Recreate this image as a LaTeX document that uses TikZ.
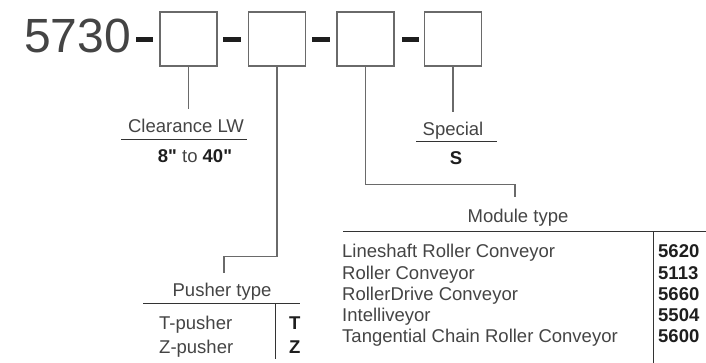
\documentclass[tikz,border=0pt]{standalone}
\usepackage{fontspec}
\setmainfont{Liberation Sans}
\newfontfamily\plainsans{Liberation Sans}
\definecolor{txt}{HTML}{444444}
\definecolor{bld}{HTML}{1E1E1E}
\definecolor{lin}{HTML}{6A6A6A}
\definecolor{rul}{HTML}{333333}
\begin{document}
\begin{tikzpicture}[x=1pt,y=-1pt,
  codebox/.style={draw=lin,line width=1.1pt,minimum width=57pt,minimum height=54pt,inner sep=0pt},
  dashbar/.style={fill=bld,draw=none},
  lbl/.style={inner sep=0pt,text=txt,font=\fontsize{18.5}{20}\selectfont},
  val/.style={inner sep=0pt,text=bld,font=\fontsize{18.5}{20}\selectfont\bfseries},
  conn/.style={draw=lin,line width=1.1pt},
  rule/.style={draw=rul,line width=1pt}]
\useasboundingbox (0,0) rectangle (706,363);
% code
\node[inner sep=0pt,anchor=base west,text=txt,font=\fontsize{48}{50}\selectfont] (code) at (24,53) {5730};
\fill[dashbar] (136,37.5) rectangle (153,41.8);
\fill[dashbar] (223,37.5) rectangle (241,41.8);
\fill[dashbar] (312,37.5) rectangle (330,41.8);
\fill[dashbar] (402,37.5) rectangle (419,41.8);
\node[codebox] (b1) at (188.5,39) {};
\node[codebox] (b2) at (277,39) {};
\node[codebox] (b3) at (365.5,39) {};
\node[codebox] (b4) at (453,39) {};
% clearance
\coordinate (c1) at (188.5,109);
\draw[conn] (b1.south) -- (c1);
\node[lbl,anchor=base] (clr) at (186,133) {Clearance LW};
\draw[rule] (121,140) -- (247,140);
\node[lbl,anchor=base] (clrv) at (195,163) {\textcolor{bld}{\plainsans\bfseries 8"} to \textcolor{bld}{\plainsans\bfseries 40"}};
% special
\coordinate (c4) at (453,112);
\draw[conn] (b4.south) -- (c4);
\node[lbl,anchor=base] (spc) at (453,136) {Special};
\draw[rule] (416,142) -- (497,142);
\node[val,anchor=base] (spcv) at (456,165) {S};
% pusher
\coordinate (c2) at (224,273);
\draw[conn] (b2.south) -- ++(0,190) -| (c2);
\node[lbl,anchor=base] (psh) at (222,296) {Pusher type};
\draw[rule] (143,303) -- (300,303);
\draw[rule] (275,303) -- (275,359);
\node[lbl,anchor=base west] (pt) at (159,329) {T-pusher};
\node[lbl,anchor=base west] (pz) at (159,353) {Z-pusher};
\node[val,anchor=base west] (ptv) at (289,329) {T};
\node[val,anchor=base west] (pzv) at (289,353) {Z};
% module
\coordinate (c3) at (515,197);
\draw[conn] (b3.south) -- ++(0,118) -| (c3);
\node[lbl,anchor=base] (mod) at (518,223) {Module type};
\draw[rule] (343,232) -- (706,232);
\draw[rule] (653,232) -- (653,363);
\node[lbl,anchor=base west] (m1) at (342,258) {Lineshaft Roller Conveyor};
\node[lbl,anchor=base west] (m2) at (342,279) {Roller Conveyor};
\node[lbl,anchor=base west] (m3) at (342,300) {RollerDrive Conveyor};
\node[lbl,anchor=base west] (m4) at (342,321) {Intelliveyor};
\node[lbl,anchor=base west] (m5) at (342,342) {Tangential Chain Roller Conveyor};
\node[val,anchor=base west] (v1) at (658,258) {5620};
\node[val,anchor=base west] (v2) at (658,279) {5113};
\node[val,anchor=base west] (v3) at (658,300) {5660};
\node[val,anchor=base west] (v4) at (658,321) {5504};
\node[val,anchor=base west] (v5) at (658,342) {5600};
\end{tikzpicture}
\end{document}
